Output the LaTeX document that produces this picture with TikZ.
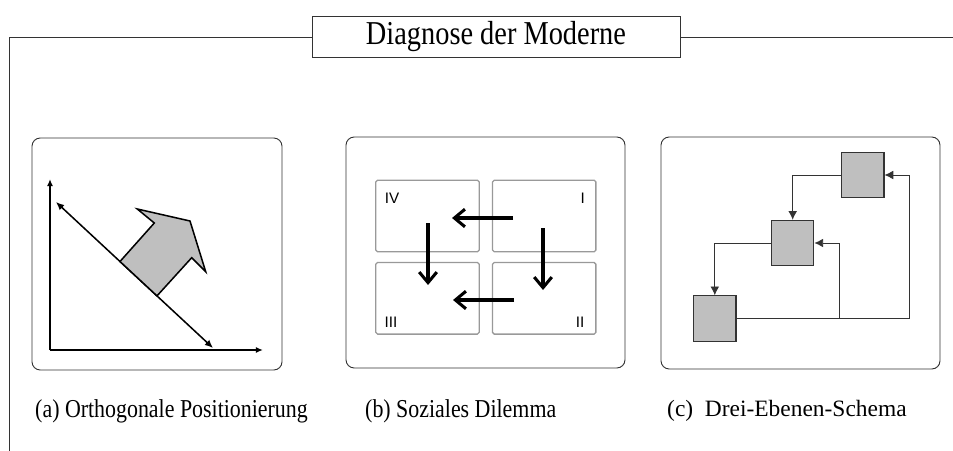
\documentclass[tikz,border=0pt]{standalone}
\usepackage{fontspec}
\setmainfont{Liberation Serif}
\newfontfamily\schmal[FakeStretch=0.85]{Liberation Serif}
\newfontfamily\grotesk{Liberation Sans}
\usetikzlibrary{arrows.meta}

\begin{document}
\begin{tikzpicture}[x=0.03cm,y=-0.03cm,
  panel/.style={draw=black!80, line width=0.8pt, rounded corners=7pt},
  feld/.style={draw=black!40, line width=1.1pt, rounded corners=1.5pt, inner sep=0pt,
    minimum width=3.1cm, minimum height=2.15cm},
  ebene/.style={draw=black!80, line width=0.9pt, fill=black!25, inner sep=0pt,
    minimum width=1.27cm, minimum height=1.36cm},
  verb/.style={draw=black!80, line width=0.8pt, -{Latex[length=7.5pt,width=7.5pt]}},
  dickpfeil/.style={line width=2.6pt, -{Straight Barb[length=9pt,width=15pt,line width=2.6pt]}},
  achse/.style={line width=1.3pt, -{Latex[length=6pt,width=5pt]}},
  quadrant/.style={font=\grotesk\fontsize{13}{14}\selectfont, inner sep=0pt},
  legende/.style={anchor=west, inner sep=0pt, font=\schmal\fontsize{22}{24}\selectfont}]

  \useasboundingbox (0,0) rectangle (953,451);

  % Titel und Rahmenlinie
  \node[draw=black!80, line width=0.8pt, fill=white, minimum width=11.04cm, minimum height=1.23cm,
    font=\schmal\fontsize{28.5}{30}\selectfont] (titel) at (496,37) {Diagnose der Moderne};
  \draw[black!80, line width=0.8pt] (9,451) -- (9,37) -- (titel.west);
  \draw[black!80, line width=0.8pt] (titel.east) -- (953,37);

  % Panels
  \draw[panel] (32,138) rectangle (282,370);
  \draw[panel] (346,137) rectangle (625,368);
  \draw[panel] (661,137) rectangle (940,369);

  % (a) Achsen
  \draw[achse] (50,350) -- (50,179);
  \draw[achse] (50,350) -- (263,350);

  % (a) Gerade mit Pfeil
  \draw[line width=1.3pt, {Latex[length=7pt,width=6pt]}-{Latex[length=7pt,width=6pt]}] (56,202) -- (213,348);
  \filldraw[fill=black!25, draw=black, line width=1.3pt]
    (120,261.5) -- (154.3,223) -- (137.3,209) -- (190,221) -- (205.7,271.7)
    -- (191.7,257.7) -- (157,295.9) -- cycle;

  % (b) Quadranten
  \node[feld] (IV) at (427.5,216) {};
  \node[feld] (I) at (544.2,216) {};
  \node[feld] (III) at (427.5,298.3) {};
  \node[feld] (II) at (544.2,298.3) {};

  \node[quadrant] (lIV) at (392,198.5) {IV};
  \node[quadrant] (lI) at (582.7,198.5) {I};
  \node[quadrant] (lIII) at (391,322.5) {III};
  \node[quadrant] (lII) at (580,322.5) {II};

  \coordinate (p1) at (513,218);
  \coordinate (p2) at (452,218);
  \coordinate (p3) at (514,300);
  \coordinate (p4) at (453,300);
  \coordinate (p5) at (428,223);
  \coordinate (p6) at (428,285);
  \coordinate (p7) at (543,228);
  \coordinate (p8) at (543,290);
  \draw[dickpfeil] (p1) -- (p2);
  \draw[dickpfeil] (p3) -- (p4);
  \draw[dickpfeil] (p5) -- (p6);
  \draw[dickpfeil] (p7) -- (p8);

  % (c) Drei Ebenen
  \node[ebene] (oben) at (862.8,175) {};
  \node[ebene] (mitte) at (792.7,243) {};
  \node[ebene] (unten) at (714.8,318.5) {};

  \coordinate (k1) at (909,318.5);
  \coordinate (k2) at (839,318.5);
  \draw[verb] (oben.west) -| (mitte.north);
  \draw[verb] (mitte.west) -| (unten.north);
  \draw[verb] (unten.east) -- (k1) |- (oben.east);
  \draw[verb] (k2) |- (mitte.east);

  % Beschriftungen
  \node[legende] (capa) at (35,411) {(a) Orthogonale Positionierung};
  \node[legende] (capb) at (365,411) {(b) Soziales Dilemma};
  \node[legende, font=\fontsize{20}{22}\selectfont] (capc) at (667,411) {(c)\ \ Drei-Ebenen-Schema};

\end{tikzpicture}
\end{document}
